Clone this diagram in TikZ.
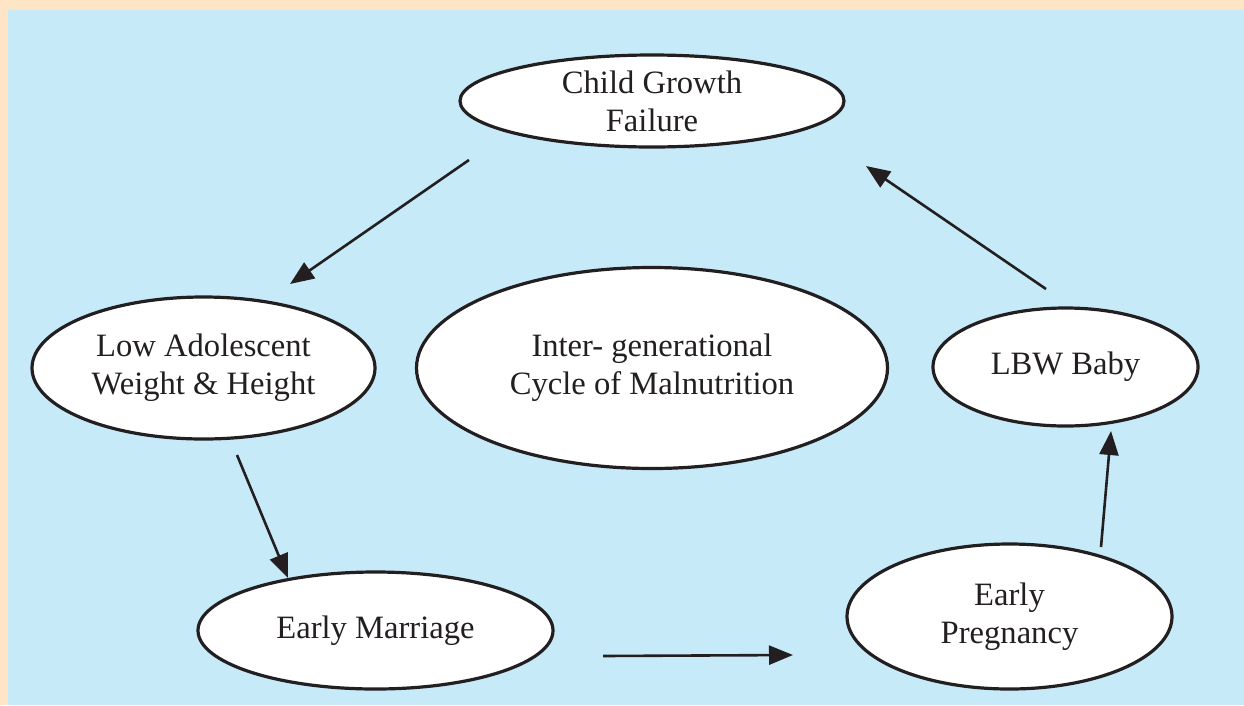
\documentclass[tikz,border=0pt]{standalone}
\usepackage{fontspec}
\setmainfont{Liberation Serif}
\usetikzlibrary{shapes.geometric,arrows.meta}
\definecolor{framepeach}{HTML}{FDE5C6}
\definecolor{panelblue}{HTML}{C7EAF9}
\definecolor{inkblack}{HTML}{231F20}
\begin{document}
\begin{tikzpicture}[x=1pt,y=-1pt,
  stage/.style={ellipse, draw=inkblack, line width=3.2pt, fill=white, inner sep=0pt,
    align=center, text=inkblack, font=\fontsize{32.6}{38}\selectfont},
  flow/.style={draw=inkblack, line width=2.6pt, -{Triangle[length=24pt,width=19pt]}}]
% frame and panel
\fill[framepeach] (0,0) rectangle (1244,705);
\fill[panelblue] (8,10) rectangle (1244,705);
\useasboundingbox (0,0) rectangle (1244,705);
% stages of the cycle
\node[stage, minimum width=384pt, minimum height=92pt] (growth) at (652,101) {Child Growth\\Failure};
\node[stage, minimum width=343pt, minimum height=142pt] (adol) at (203.5,368) {Low Adolescent\\Weight \& Height};
\node[stage, minimum width=471pt, minimum height=201pt] (cycle) at (652,368) {Inter- generational\\Cycle of Malnutrition};
\node[stage, minimum width=265pt, minimum height=118pt] (lbw) at (1065.5,367) {LBW Baby};
\node[stage, minimum width=355pt, minimum height=117pt] (marriage) at (375.5,630.5) {Early Marriage};
\node[stage, minimum width=325pt, minimum height=145pt] (pregnancy) at (1009.5,616.5) {Early\\Pregnancy};
% arrow end points
\coordinate (g-out) at (469,160);
\coordinate (a-in) at (290,284);
\coordinate (a-out) at (237,455);
\coordinate (m-in) at (288,578);
\coordinate (m-out) at (603,656);
\coordinate (p-in) at (793,655);
\coordinate (p-out) at (1101,547);
\coordinate (l-in) at (1111,431);
\coordinate (l-out) at (1046,289);
\coordinate (g-in) at (866,166);
% arrows
\draw[flow] (g-out) -- (a-in);
\draw[flow] (a-out) -- (m-in);
\draw[flow] (m-out) -- (p-in);
\draw[flow] (p-out) -- (l-in);
\draw[flow] (l-out) -- (g-in);
\end{tikzpicture}
\end{document}
